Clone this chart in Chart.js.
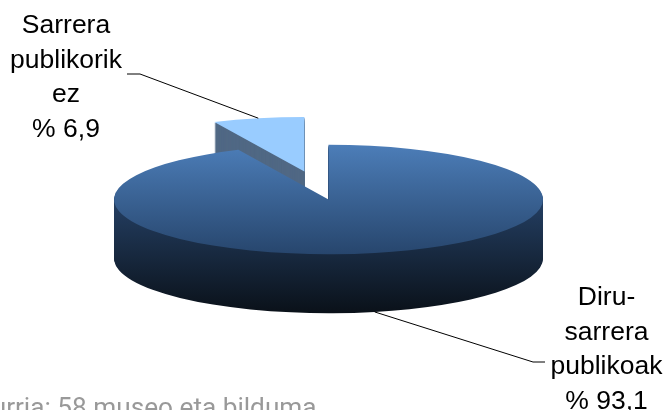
<!DOCTYPE html>
<html>
<head>
<meta charset="utf-8">
<style>
  html, body { margin: 0; padding: 0; background: #fff; overflow: hidden; }
  canvas { display: block; }
</style>
<script src="https://cdn.jsdelivr.net/npm/chart.js@4/dist/chart.umd.min.js"></script>
</head>
<body>
<canvas id="PieChart" width="668" height="410"></canvas>
<script>
const categories = [['Diru-', 'sarrera', 'publikoak'], ['Sarrera', 'publikorik', 'ez']];
const values = [93.1, 6.9];
const source = 'Iturria: 58 museo eta bilduma';

// look of the tilted pie
const centerX = 328.5;
const centerY = 199.5;
const radius = 214.5;
const tilt = 0.255;
const depth = 59;
const explode = [0, 112];
const topStops = [[145, '#4c7db8'], [254, '#27466d']];
const sideStops = [[200, '#243f63'], [313, '#0a1119']];
const colors = ['#4c7db8', '#99ccff'];
const sideColors = [null, '#506884'];

// label blocks: centre x, first baseline, then leader elbow and end
const labelSpots = [
  { x: 606.5, y: 305, step: 34.7, elbow: [533, 362], end: [545, 362] },
  { x: 66, y: 33, step: 34.5, elbow: [140, 74], end: [127, 74] },
];

const gradient = (ctx, arc, stops, offsetY) => {
  const toLocal = (y) => arc.y + (y - offsetY) / tilt;
  const g = ctx.createLinearGradient(0, toLocal(stops[0][0]), 0, toLocal(stops[1][0]));
  g.addColorStop(0, stops[0][1]);
  g.addColorStop(1, stops[1][1]);
  return g;
};

const midAngle = (arc) => (arc.startAngle + arc.endAngle) / 2;

const drawLayer = (ctx, arc, i, d, fill) => {
  const shiftX = Math.cos(midAngle(arc)) * explode[i];
  const shiftY = Math.sin(midAngle(arc)) * explode[i] * tilt;
  const offsetY = centerY + shiftY + d;
  ctx.save();
  ctx.translate(centerX + shiftX, offsetY);
  ctx.scale(1, tilt);
  ctx.translate(-arc.x, -arc.y);
  // draw through the chart's own arc, with the fill of this layer
  const layer = Object.create(arc);
  layer.options = { ...arc.options, backgroundColor: fill || gradient(ctx, arc, i === 0 && d > 0 ? sideStops : topStops, offsetY) };
  layer.draw(ctx);
  ctx.restore();
};

const tiltedPie = {
  id: 'tiltedPie',
  beforeDatasetsDraw(chart) {
    const { ctx } = chart;
    const arcs = chart.getDatasetMeta(0).data;

    // exploded slice goes first, the big one covers its foot
    [1, 0].forEach((i) => {
      for (let d = depth; d > 0; d--) {
        drawLayer(ctx, arcs[i], i, d, sideColors[i]);
      }
      drawLayer(ctx, arcs[i], i, 0, i === 0 ? null : colors[i]);
    });

    ctx.save();
    ctx.strokeStyle = '#000';
    ctx.lineWidth = 1;
    ctx.fillStyle = '#000';
    ctx.font = '26.5px "Liberation Sans", Arial, sans-serif';
    ctx.textAlign = 'center';
    arcs.forEach((arc, i) => {
      const a = midAngle(arc);
      const spot = labelSpots[i];
      const below = Math.sin(a) > 0 && i === 0 ? depth : 0;
      const ax = centerX + Math.cos(a) * (radius + explode[i]);
      const ay = centerY + Math.sin(a) * (radius + explode[i]) * tilt + below;
      ctx.beginPath();
      ctx.moveTo(ax, ay);
      ctx.lineTo(spot.elbow[0], spot.elbow[1]);
      ctx.lineTo(spot.end[0], spot.end[1]);
      ctx.stroke();

      const lines = categories[i].concat('% ' + values[i].toFixed(1).replace('.', ','));
      lines.forEach((line, n) => ctx.fillText(line, spot.x, spot.y + n * spot.step));
    });
    ctx.fillStyle = '#999';
    ctx.font = '26.2px Roboto, sans-serif';
    ctx.textAlign = 'left';
    ctx.fillText(source, -24, 416);
    ctx.restore();
    return false;
  },
};

new Chart(document.getElementById('PieChart'), {
  type: 'pie',
  data: {
    labels: categories.map((c) => c.join(' ')),
    datasets: [{ data: values, backgroundColor: colors, borderWidth: 0, radius: radius }],
  },
  options: {
    responsive: false,
    animation: false,
    events: [],
    plugins: { legend: { display: false }, tooltip: { enabled: false } },
  },
  plugins: [tiltedPie],
});
</script>
</body>
</html>
